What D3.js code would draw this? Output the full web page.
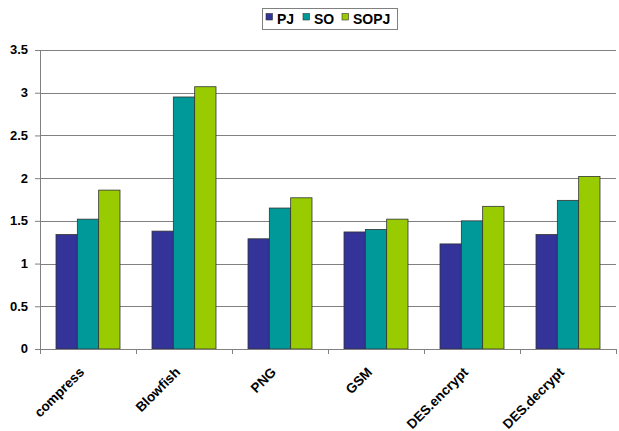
<!DOCTYPE html>
<html><head><meta charset="utf-8">
<script src="https://cdn.jsdelivr.net/npm/d3@7"></script>
<style>body{margin:0;background:#fff;} text{font-family:Arial,"Liberation Sans",sans-serif;font-weight:bold;}</style>
</head><body>
<svg id="c" width="619" height="431"></svg>
<script>
const categories = ["compress","Blowfish","PNG","GSM","DES.encrypt","DES.decrypt"];
const seriesNames = ["PJ","SO","SOPJ"];
const PJ   = [1.34, 1.38, 1.29, 1.37, 1.23, 1.34];
const SO   = [1.52, 2.95, 1.65, 1.40, 1.50, 1.74];
const SOPJ = [1.86, 3.07, 1.77, 1.52, 1.67, 2.02];
const yTicks = [0, 0.5, 1, 1.5, 2, 2.5, 3, 3.5];
const colors = ["#333399", "#009999", "#99CC00"];

(function(){
const seriesValues = [PJ, SO, SOPJ];
const svg = d3.select("#c");
const mLeft = 40, mRight = 616, mTop = 50, mBottom = 349;

const x0 = d3.scaleBand().domain(categories).range([mLeft, mRight]).paddingInner(0).paddingOuter(0);
const x1 = d3.scaleBand().domain(seriesNames).range([0, x0.bandwidth()]).paddingInner(0).paddingOuter(0.75);
const y = d3.scaleLinear().domain([0, 3.5]).range([mBottom, mTop]);

// gridlines
svg.append("g").selectAll("line").data(yTicks.filter(d => d > 0)).join("line")
  .attr("x1", mLeft).attr("x2", mRight)
  .attr("y1", d => Math.round(y(d)) + 0.5).attr("y2", d => Math.round(y(d)) + 0.5)
  .attr("stroke", "#808080").attr("stroke-width", 1);

// bars
const g = svg.append("g");
categories.forEach((c, i) => {
  seriesNames.forEach((s, j) => {
    const v = seriesValues[j][i];
    g.append("rect")
      .attr("x", x0(c) + x1(s)).attr("width", x1.bandwidth())
      .attr("y", y(v)).attr("height", y(0) - y(v))
      .attr("fill", colors[j]).attr("stroke", "#333").attr("stroke-width", 0.8);
  });
});

// y axis
const yAxis = d3.axisLeft(y).tickValues(yTicks).tickSize(5).tickPadding(7).tickFormat(d3.format("~g"));
const ya = svg.append("g").attr("transform", `translate(${mLeft},0)`).call(yAxis);
ya.select(".domain").attr("stroke", "#808080");
ya.selectAll(".tick line").attr("stroke", "#808080");
ya.selectAll("text").attr("font-size", 13).attr("fill", "#000").attr("dy", "0.3em")
  .style("font-family", "Arial, 'Liberation Sans', sans-serif").style("font-weight", "bold");

// x axis line and boundary ticks
svg.append("line").attr("x1", mLeft).attr("x2", mRight).attr("y1", mBottom + 0.5).attr("y2", mBottom + 0.5)
  .attr("stroke", "#808080");
const bounds = categories.map(c => x0(c)).concat([x0(categories[categories.length-1]) + x0.bandwidth()]);
svg.append("g").selectAll("line").data(bounds).join("line")
  .attr("x1", d => Math.round(d) + 0.5).attr("x2", d => Math.round(d) + 0.5).attr("y1", mBottom).attr("y2", mBottom + 5)
  .attr("stroke", "#808080");

// x labels
svg.append("g").selectAll("text").data(categories).join("text")
  .attr("transform", d => `translate(${x0(d) + x0.bandwidth()/2 - 3},${mBottom + 24}) rotate(-45)`)
  .attr("text-anchor", "end").attr("font-size", 13.5).attr("fill", "#000")
  .text(d => d);

// legend
const lg = svg.append("g");
lg.append("rect").attr("x", 262.5).attr("y", 8.5).attr("width", 135).attr("height", 21)
  .attr("fill", "#fff").attr("stroke", "#808080");
const legX = [266, 303, 342];
seriesNames.forEach((s, j) => {
  lg.append("rect").attr("x", legX[j]).attr("y", 13.5).attr("width", 6.5).attr("height", 6.5)
    .attr("fill", colors[j]).attr("stroke", "#333").attr("stroke-width", 0.6);
  lg.append("text").attr("x", legX[j] + 11).attr("y", 23.5).attr("font-size", 14).attr("fill", "#000").text(s);
});
})();
</script>
</body></html>
